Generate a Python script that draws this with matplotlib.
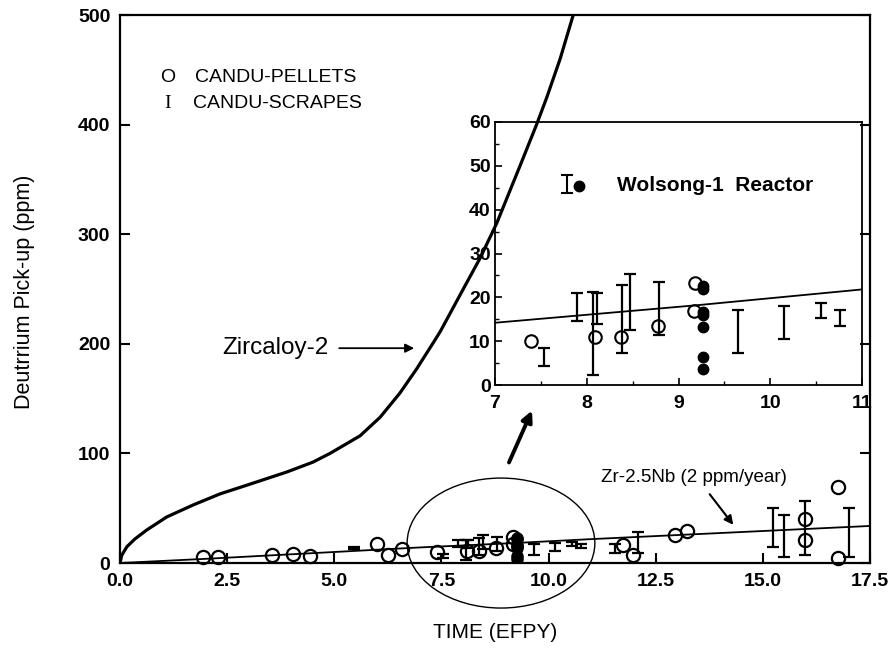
import matplotlib
matplotlib.use("Agg")
import matplotlib.pyplot as plt
from matplotlib.patches import Ellipse
import numpy as np

plt.rcParams['font.family'] = ['Liberation Sans', 'DejaVu Sans']

# ---------------- data ----------------
# Zircaloy-2 curve
zirc_x = [0, 0.04, 0.16, 0.35, 0.62, 1.09, 1.71, 2.33, 2.96, 3.89, 4.5, 4.9, 5.6, 6.07,
          6.53, 6.92, 7.31, 7.47, 8.01, 8.4, 8.79, 9.33, 9.72, 9.96, 10.27, 10.56, 10.6]
zirc_y = [0, 7, 14.8, 22, 30, 42, 53, 63, 71, 83, 92, 100, 116, 133,
          155, 177, 201, 211, 250, 278, 310, 362, 400, 425, 460, 498, 503]

# Zr-2.5Nb line (2 ppm/year)
nb_x = [0, 2, 7, 9.2, 11, 17.5]
nb_y = [0, 3.8, 14.2, 18.2, 21.8, 33.8]

# CANDU pellets (open circles)
pel_x = [1.94, 2.29, 3.54, 4.03, 4.43, 5.99, 6.26, 6.59, 7.39, 8.09, 8.37, 8.78, 9.18, 9.17,
         11.74, 11.96, 12.95, 13.22, 15.98, 15.98, 16.76, 16.76]
pel_y = [5.8, 5.2, 7.3, 8.2, 6.4, 17.0, 7.3, 12.5, 10.1, 11.0, 10.9, 13.5, 23.3, 16.9,
         16.4, 7.3, 25.5, 29.5, 40.1, 21.0, 69.6, 4.3]

# CANDU scrapes (ranges)
scr_x = [5.45, 7.53, 7.89, 8.07, 8.11, 8.38, 8.47, 8.79, 9.65, 10.15, 10.55, 10.76,
         11.55, 12.09, 15.24, 15.50, 15.98, 17.01]
scr_lo = [12.5, 4.3, 14.6, 2.3, 14.0, 7.2, 12.5, 11.4, 7.2, 10.6, 15.2, 13.5,
          8.8, 8.8, 14.9, 5.8, 7.3, 5.8]
scr_hi = [14.5, 8.4, 20.9, 21.3, 21.0, 22.8, 25.4, 23.5, 17.1, 18.0, 18.8, 17.1,
          17.5, 28.6, 49.9, 43.8, 56.6, 49.9]

# Wolsong-1 reactor (filled circles)
wol_x = [9.27, 9.27, 9.27, 9.27, 9.27, 9.27, 9.27]
wol_y = [22.5, 21.8, 16.6, 15.9, 13.3, 6.5, 3.6]

main_xticks = [0.0, 2.5, 5.0, 7.5, 10.0, 12.5, 15.0, 17.5]
main_yticks = [0, 100, 200, 300, 400, 500]
ins_xticks = [7, 8, 9, 10, 11]
ins_yticks = [0, 10, 20, 30, 40, 50, 60]

# ---------------- figure ----------------
W, H = 894, 648
fig = plt.figure(figsize=(W / 100, H / 100), dpi=100)
ax = fig.add_axes([120 / W, 1 - 563 / H, 750 / W, 548 / H])
ax.set_xlim(0, 17.5)
ax.set_ylim(0, 500)

scr_x = np.array(scr_x); scr_lo = np.array(scr_lo); scr_hi = np.array(scr_hi)
scr_mid = (scr_lo + scr_hi) / 2

ax.plot(nb_x, nb_y, color='k', lw=1.3)
ax.plot(zirc_x, zirc_y, color='k', lw=2.3, solid_joinstyle='round')
ax.errorbar(scr_x, scr_mid, yerr=[scr_mid - scr_lo, scr_hi - scr_mid], fmt='none',
            ecolor='k', elinewidth=1.6, capsize=4, capthick=1.6)
ax.plot(pel_x, pel_y, 'o', mfc='none', mec='k', ms=9.5, mew=1.6, clip_on=False)
ax.plot(wol_x, wol_y, 'o', color='k', ms=8)

for s in ax.spines.values():
    s.set_linewidth(1.6)
ax.set_xticks(main_xticks)
ax.set_xticklabels([f"{v:.1f}" for v in main_xticks])
ax.set_yticks(main_yticks)
ax.set_yticklabels([str(v) for v in main_yticks])
ax.tick_params(direction='in', length=7, width=1.5, right=True, top=False,
               labelsize=14, pad=7)
for lab in ax.get_xticklabels() + ax.get_yticklabels():
    lab.set_fontweight('bold')

fig.text(495 / W, 1 - 632 / H, 'TIME (EFPY)', ha='center', va='center', fontsize=15)
fig.text(25 / W, 1 - 292 / H, 'Deutrrium Pick-up (ppm)', ha='center', va='center',
         rotation=90, fontsize=15.5)

# legend (main)
ax.text(1.12, 443.4, 'O', ha='center', va='center', fontsize=14)
ax.text(1.75, 443.4, 'CANDU-PELLETS', ha='left', va='center', fontsize=14)
ax.text(1.10, 419.7, 'I', ha='center', va='center', fontsize=14,
        family=['Liberation Serif', 'DejaVu Serif'])
ax.text(1.70, 419.7, 'CANDU-SCRAPES', ha='left', va='center', fontsize=14)

# annotations
ax.text(2.38, 196, 'Zircaloy-2', ha='left', va='center', fontsize=17.5)
ax.annotate('', xy=(6.93, 196), xytext=(5.05, 196),
            arrowprops=dict(arrowstyle='-|>', color='k', lw=1.3, mutation_scale=13))
ax.text(13.39, 77.6, 'Zr-2.5Nb (2 ppm/year)', ha='center', va='center', fontsize=13.5)
ax.annotate('', xy=(14.35, 32.8), xytext=(13.72, 64.8),
            arrowprops=dict(arrowstyle='-|>', color='k', lw=1.5, mutation_scale=13))
ax.add_patch(Ellipse((8.89, 18.2), 4.38, 118.6, fill=False, lw=1.0, color='k',
                     clip_on=False))
ax.annotate('', xy=(9.64, 141.4), xytext=(9.05, 89.4),
            arrowprops=dict(arrowstyle='-|>', color='k', lw=2.8, mutation_scale=16))

# ---------------- inset ----------------
ins = fig.add_axes([495 / W, 1 - 385 / H, 367 / W, 263 / H])
ins.set_facecolor('none')
ins.set_xlim(7, 11)
ins.set_ylim(0, 60)
ins.plot(nb_x, nb_y, color='k', lw=1.3)
ins.errorbar(scr_x, scr_mid, yerr=[scr_mid - scr_lo, scr_hi - scr_mid], fmt='none',
             ecolor='k', elinewidth=1.6, capsize=4, capthick=1.6)
ins.plot(pel_x, pel_y, 'o', mfc='none', mec='k', ms=9, mew=1.5)
ins.plot(wol_x, wol_y, 'o', color='k', ms=7.5)

# inset legend
ins.errorbar([7.78], [45.9], yerr=[[2.1], [2.1]], fmt='none', ecolor='k',
             elinewidth=1.5, capsize=4, capthick=1.5)
ins.plot([7.92], [45.4], 'o', color='k', ms=7.5)
ins.text(8.33, 45.6, 'Wolsong-1  Reactor', ha='left', va='center', fontsize=15,
         fontweight='bold')

for s in ins.spines.values():
    s.set_linewidth(1.3)
ins.set_xticks(ins_xticks)
ins.set_yticks(ins_yticks)
ins.set_xticks(np.arange(7.5, 11, 1.0), minor=True)
ins.set_yticks(np.arange(5, 60, 10), minor=True)
ins.tick_params(which='major', direction='in', length=5, width=1.2, labelsize=14,
                top=False, right=False)
ins.tick_params(axis='x', which='major', pad=7)
ins.tick_params(axis='y', which='major', pad=3)
ins.tick_params(which='minor', direction='in', length=3, width=1.0, top=False,
                right=False)
for lab in ins.get_xticklabels() + ins.get_yticklabels():
    lab.set_fontweight('bold')

fig.savefig('out.png', dpi=100)
